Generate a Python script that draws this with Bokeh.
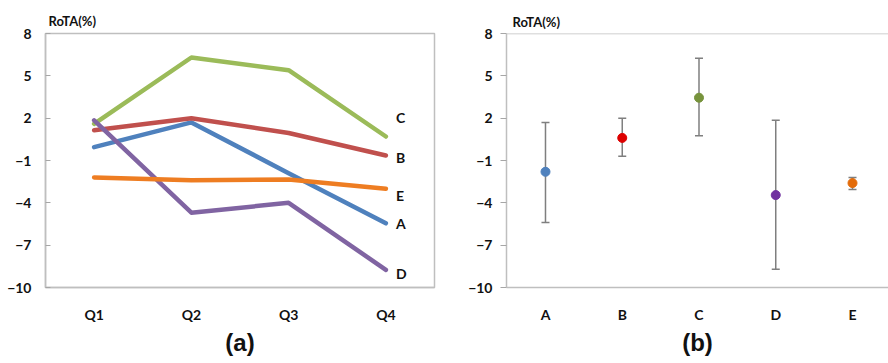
from bokeh.plotting import figure
from bokeh.layouts import row
from bokeh.models import (Range1d, FactorRange, FixedTicker, ColumnDataSource,
                          Whisker, TeeHead, Span)
from bokeh.core.properties import value
from bokeh.embed import file_html
from bokeh.resources import INLINE

# ---------------- data ----------------
quarters = ["Q1", "Q2", "Q3", "Q4"]
firms = ["A", "B", "C", "D", "E"]
rota_A = [-0.05, 1.7, -1.9, -5.45]
rota_B = [1.15, 2.0, 0.95, -0.65]
rota_C = [1.6, 6.3, 5.4, 0.7]
rota_D = [1.85, -4.7, -4.0, -8.75]
rota_E = [-2.2, -2.4, -2.35, -3.0]
y_ticks = [-10, -7, -4, -1, 2, 5, 8]

mean_vals = [-1.8, 0.6, 3.45, -3.45, -2.6]
max_vals = [1.7, 2.0, 6.25, 1.85, -2.2]
min_vals = [-5.4, -0.7, 0.75, -8.7, -3.05]

line_colors = ["#4F81BD", "#C0504D", "#9BBB59", "#8064A2", "#EE7D22"]
dot_colors = ["#4F81BD", "#DD0000", "#77933C", "#7030A0", "#E46C0A"]
label_dy = [0, 2, -19, 4, 7]  # pixel nudges of end labels

FONT = "Lato"
GRID = "#BFBFBF"

# ---------------- left panel (a) ----------------
p1 = figure(width=450, height=363, x_range=FactorRange(*quarters, range_padding=0),
            y_range=Range1d(-10, 8), output_backend="svg", toolbar_location=None,
            min_border_left=45, min_border_right=16, min_border_top=32, min_border_bottom=76)
series = [rota_A, rota_B, rota_C, rota_D, rota_E]
for vals, col in zip(series, line_colors):
    p1.line(quarters, vals, line_color=col, line_width=4.5, line_join="round", line_cap="round")

ends = [s[-1] for s in series]
p1.text(x=[quarters[-1]] * len(firms), y=ends, text=firms, x_offset=10,
        y_offset=label_dy, text_font=value(FONT), text_font_style="bold",
        text_font_size="14px", text_baseline="middle", text_align="left", text_color="#111111")

# ---------------- right panel (b) ----------------
xs = list(range(len(firms)))
p2 = figure(width=438, height=363, x_range=Range1d(-0.508, 4.469),
            y_range=Range1d(-10, 8), output_backend="svg", toolbar_location=None,
            min_border_left=56, min_border_right=0, min_border_top=33, min_border_bottom=73)
src = ColumnDataSource(dict(x=xs, lo=min_vals, hi=max_vals, m=mean_vals, c=dot_colors))
wh = Whisker(source=src, base="x", lower="lo", upper="hi", line_color="#7F7F7F", line_width=1.5,
             upper_head=TeeHead(size=8, line_color="#7F7F7F", line_width=1.5),
             lower_head=TeeHead(size=8, line_color="#7F7F7F", line_width=1.5))
p2.add_layout(wh)
p2.scatter("x", "m", source=src, size=9, fill_color="c", line_color="c")
p2.xaxis.ticker = FixedTicker(ticks=xs)
p2.xaxis.major_label_overrides = {i: f for i, f in enumerate(firms)}
p2.outline_line_color = None
p2.add_layout(Span(location=8, dimension="width", line_color=GRID, line_width=1.5))

# ---------------- common styling ----------------
for p, title_off, title_so, lab in ((p1, 3, 9, "(a)"), (p2, 6, 7, "(b)")):
    p.grid.visible = False
    p.background_fill_color = "white"
    p.border_fill_color = "white"
    p.yaxis.ticker = FixedTicker(ticks=y_ticks)
    p.title.text = "RoTA(%)"
    p.title.text_font = FONT
    p.title.text_font_style = "bold"
    p.title.text_font_size = "13px"
    p.title.text_color = "#111111"
    p.title.align = "left"
    p.title.offset = title_off
    p.title.standoff = title_so
    for ax in (p.xaxis[0], p.yaxis[0]):
        ax.axis_line_color = GRID
        ax.axis_line_width = 1.5
        ax.major_label_text_font = FONT
        ax.major_label_text_font_style = "bold"
        ax.major_label_text_font_size = "14px"
        ax.major_label_text_color = "#111111"
        ax.minor_tick_line_color = None
        ax.major_tick_line_color = "#A6A6A6"
    p.xaxis.major_tick_line_color = None
    p.xaxis.major_label_standoff = 12
    p.xaxis.axis_label = lab
    p.xaxis.axis_label_text_font = "Liberation Sans"
    p.xaxis.axis_label_text_font_style = "bold"
    p.xaxis.axis_label_text_font_size = "24px"
    p.xaxis.axis_label_text_color = "#111111"
    p.xaxis.axis_label_standoff = 3

p1.outline_line_color = GRID
p1.outline_line_width = 1.5
p1.yaxis.major_tick_in = 5
p1.yaxis.major_tick_out = 0
p1.yaxis.major_label_standoff = 14
p2.yaxis.major_tick_in = 0
p2.yaxis.major_tick_out = 6
p2.yaxis.major_label_standoff = 8

layout = row(p1, p2)
open("out.html", "w").write(file_html(layout, INLINE))
